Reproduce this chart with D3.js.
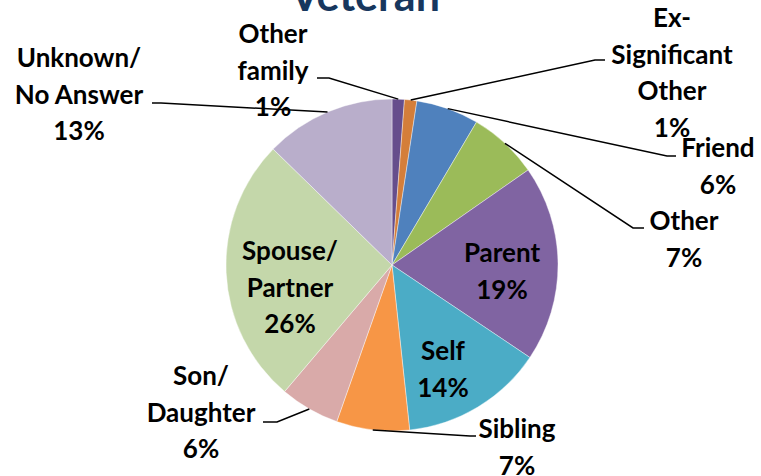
<!doctype html>
<html lang="en">
<head>
    <meta charset="UTF-8">
    <title>Veteran</title>
    <script src="https://d3js.org/d3.v7.min.js"></script>
    <style>
      body { margin: 0; background: #fff; }
      text { font-family: Lato, "Open Sans", sans-serif; font-weight: bold; }
    </style>
</head>
<body>
    <div id="chart"></div>

    <script>

      // Data (percent of responses, clockwise from 12 o'clock)
      const categories = ['Other family', 'Ex-Significant Other', 'Friend', 'Other', 'Parent',
                          'Self', 'Sibling', 'Son/Daughter', 'Spouse/Partner', 'Unknown/No Answer'];
      const values = [1.2, 1.2, 6.1, 6.8, 19.1, 13.9, 7.1, 5.8, 26.1, 12.7];
      const labelLines = [
        ['Other', 'family'],
        ['Ex-', 'Significant', 'Other'],
        ['Friend'],
        ['Other'],
        ['Parent'],
        ['Self'],
        ['Sibling'],
        ['Son/', 'Daughter'],
        ['Spouse/', 'Partner'],
        ['Unknown/', 'No Answer']
      ];
      const colors = ['#664e8c', '#d47e3a', '#4f81bd', '#9bbb59', '#8064a2',
                      '#4bacc6', '#f79646', '#d9aaa9', '#c4d7aa', '#b9aecb'];

      const width = 761, height = 476;
      const cx = 392, cy = 265, radius = 166;
      const lineH = 36.5;

      // label placement: text centre x, first baseline y, elbow of leader line, end of short tail
      const layout = {
        'Other family':        { x: 273, y: 43,  elbow: [329, 78],  tail: [317, 78] },
        'Ex-Significant Other':{ x: 672, y: 27,  elbow: [595, 60],  tail: [605, 60] },
        'Friend':              { x: 718, y: 157, elbow: [667, 156], tail: [676, 156] },
        'Other':               { x: 684, y: 230, elbow: [633, 228], tail: [644, 228] },
        'Parent':              { x: 502, y: 262 },
        'Self':                { x: 443, y: 360 },
        'Sibling':             { x: 517, y: 438, elbow: [470, 436], tail: [476, 436] },
        'Son/Daughter':        { x: 201, y: 385, elbow: [277, 422], tail: [263, 422] },
        'Spouse/Partner':      { x: 290, y: 260 },
        'Unknown/No Answer':   { x: 79,  y: 67,  elbow: [161, 103], tail: [152, 103] }
      };

      const data = categories.map((c, i) => ({ name: c, value: values[i], lines: labelLines[i], color: colors[i] }));

      const svg = d3.select('#chart')
          .append('svg')
          .attr('width', width)
          .attr('height', height);

      // Title (cut off at top like the source)
      svg.append('text')
          .attr('x', 365)
          .attr('y', 11)
          .attr('text-anchor', 'middle')
          .attr('fill', '#17375e')
          .style('font-size', '43px')
          .text('Veteran');

      const pie = d3.pie()
          .sort(null)
          .value(d => d.value);

      const arc = d3.arc()
          .innerRadius(0)
          .outerRadius(radius);

      const arcs = pie(data);

      const g = svg.append('g')
          .attr('transform', `translate(${cx},${cy})`);

      g.selectAll('path')
          .data(arcs)
          .enter()
          .append('path')
          .attr('d', arc)
          .attr('fill', d => d.data.color)
          .attr('stroke', '#fff')
          .attr('stroke-width', 0.4);

      // Leader lines
      arcs.forEach(d => {
        const L = layout[d.data.name];
        if (!L.elbow) return;
        const a = (d.startAngle + d.endAngle) / 2;
        const p0 = [cx + radius * Math.sin(a), cy - radius * Math.cos(a)];
        svg.append('polyline')
            .attr('points', [p0, L.elbow, L.tail].map(p => p.join(',')).join(' '))
            .attr('fill', 'none')
            .attr('stroke', '#000')
            .attr('stroke-width', 1.5);
      });

      // Labels
      arcs.forEach(d => {
        const L = layout[d.data.name];
        const pct = Math.round(d.data.value) + '%';
        const rows = d.data.lines.concat([pct]);
        const t = svg.append('text')
            .attr('text-anchor', 'middle')
            .attr('fill', '#000')
            .style('font-size', '26px');
        rows.forEach((r, i) => {
          t.append('tspan')
              .attr('x', L.x)
              .attr('y', L.y + i * lineH)
              .text(r);
        });
      });

    </script>

</body>
</html>
